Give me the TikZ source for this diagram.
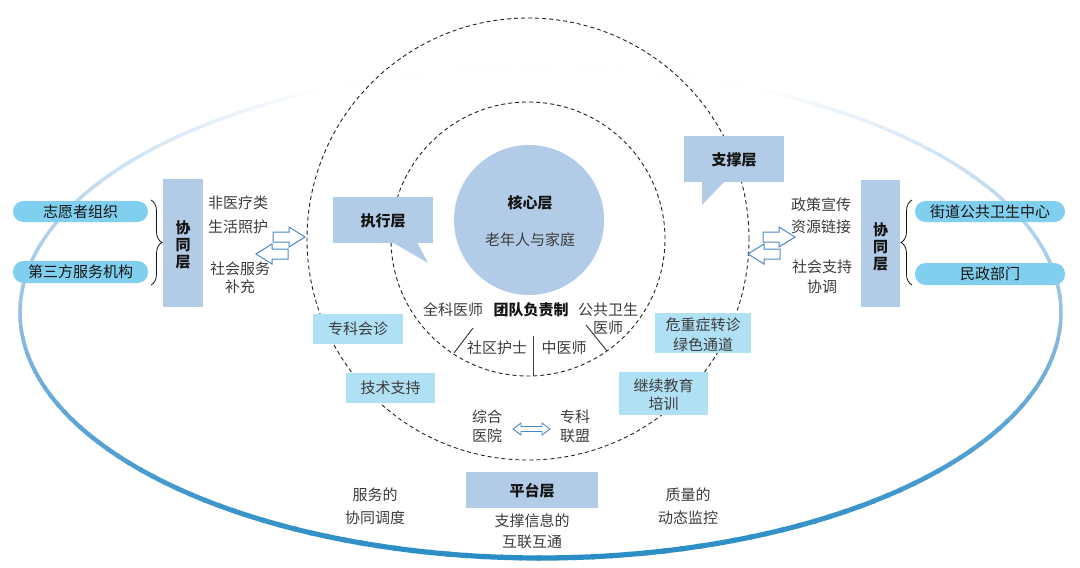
\documentclass[tikz,border=0pt]{standalone}
\usepackage{fontspec}
\setmainfont{Noto Sans CJK SC}
\usetikzlibrary{decorations.pathreplacing}
\definecolor{layerblue}{HTML}{B2CCE8}
\definecolor{pillcyan}{HTML}{80CFEE}
\definecolor{notecyan}{HTML}{B0E0F3}
\definecolor{txtgray}{HTML}{3C3C3C}
\definecolor{boldtxt}{HTML}{151515}
\definecolor{arrowblue}{HTML}{4A88C8}
\definecolor{dashgray}{HTML}{222222}
\definecolor{ellDark}{HTML}{2A8DC5}
\definecolor{ellSide}{HTML}{96C0E4}
\begin{document}
\begin{tikzpicture}[x=1pt,y=-1pt,
  every node/.style={inner sep=0pt, outer sep=0pt},
  txt/.style={text=txtgray, align=center, font=\fontsize{15}{#1}\selectfont},
  txt/.default=20,
  bold/.style={text=boldtxt, align=center, font=\bfseries\fontsize{15}{#1}\selectfont},
  bold/.default=17,
  layerbox/.style={fill=layerblue},
  pill/.style={fill=pillcyan, rounded corners=10.5pt, text=boldtxt, font=\fontsize{15}{18}\selectfont},
  notebox/.style={fill=notecyan},
  ring/.style={draw=dashgray, circle, line width=0.9pt, dash pattern=on 4pt off 3pt},
  sepline/.style={draw=txtgray, line width=1pt},
  harrow/.pic={\draw[arrowblue, line width=1pt, fill=white, line join=miter]
     (0,-5) -- (16,-5) -- (16,-10) -- (32,0) -- (16,10) -- (16,5) -- (0,5) -- cycle;},
  bracestyle/.style={draw=boldtxt, line width=0.8pt, decorate, decoration={brace, amplitude=11pt}}
]
\useasboundingbox (0,0) rectangle (1080,568);

% big gradient ellipse
\foreach \t in {0,2,...,358}{
  \pgfmathsetmacro{\s}{sin(\t+1)}
  \ifdim\s pt<0pt
    \pgfmathsetmacro{\q}{100*(max(0.001,1+(\s)/0.9))^0.7}
    \colorlet{segc}{ellSide!\q!white}
    \def\w{3.5}
  \else
    \pgfmathsetmacro{\q}{100*(max(0.001,\s))^0.8}
    \colorlet{segc}{ellDark!\q!ellSide}
    \pgfmathsetmacro{\w}{3.5+1.7*\s}
  \fi
  \draw[segc, line width=\w pt] ({540.5+520.5*cos(\t)},{312.6+245.4*sin(\t)})
     arc[start angle=\t, end angle=\t+2.4, x radius=520.5, y radius=245.4];
}

% callout tails (under the dashed rings)
\fill[layerblue] (392,242) -- (417,242) -- (428,263) -- cycle;
\fill[layerblue] (702,181) -- (725,181) -- (702,205) -- cycle;

% dashed rings
\node[ring, minimum size=442pt] (outer) at (528,239) {};
\node[ring, minimum size=274pt] (inner) at (528,239) {};

% core
\node[circle, fill=layerblue, minimum size=150pt] (core) at (529,220) {};
\node[bold] (hx) at (530,203) {核心层};
\node[txt] (lnr) at (530,240) {老年人与家庭};

% team
\node[txt] (qk) at (453,310) {全科医师};
\node[bold] (td) at (531,310) {团队负责制};
\node[txt=18] (gw) at (608,319) {公共卫生\\医师};
\node[txt] (sq) at (497,348) {社区护士};
\node[txt] (zy) at (564,348) {中医师};
\draw[sepline] (473,328) -- (454,353);
\draw[sepline] (533,336) -- (533,376);
\draw[sepline] (586,325) -- (607,351);

% callout boxes
\node[layerbox, minimum width=100pt, minimum height=46pt] (zx) at (383,220) {};
\node[bold] (zxt) at (383,221) {执行层};
\node[layerbox, minimum width=100pt, minimum height=46pt] (zc) at (734,159) {};
\node[bold] (zct) at (734,160) {支撑层};

% left coordination layer
\node[pill, minimum width=135pt, minimum height=21pt] (p1) at (80.5,211.5) {志愿者组织};
\node[pill, minimum width=135pt, minimum height=22pt] (p2) at (80.5,272) {第三方服务机构};
\draw[bracestyle] (151,200) -- (151,285);
\node[layerbox, minimum width=40pt, minimum height=128pt] (xtl) at (183,243) {};
\node[bold] (xtlt) at (183,245) {协\\同\\层};
\node[txt=24] (fl1) at (238,214.5) {非医疗类\\生活照护};
\node[txt=18] (fl2) at (240,278) {社会服务\\补充};
\pic at (273,237) {harrow};
\pic[xscale=-1] at (288,254) {harrow};

% right coordination layer
\node[pill, minimum width=150pt, minimum height=21pt] (p3) at (990,211.5) {街道公共卫生中心};
\node[pill, minimum width=150pt, minimum height=22pt] (p4) at (990,274) {民政部门};
\draw[bracestyle] (912,285) -- (912,200);
\node[layerbox, minimum width=39pt, minimum height=127pt] (xtr) at (880.5,243.5) {};
\node[bold] (xtrt) at (880.5,247) {协\\同\\层};
\node[txt=22] (fr1) at (821,216) {政策宣传\\资源链接};
\node[txt=20] (fr2) at (822,277) {社会支持\\协调};
\pic at (763,237) {harrow};
\pic[xscale=-1] at (780,254) {harrow};

% note boxes
\node[notebox, minimum width=90pt, minimum height=30pt, txt] (zkhz) at (358,329) {专科会诊};
\node[notebox, minimum width=89pt, minimum height=30pt, txt] (jszc) at (390.5,388) {技术支持};
\node[notebox, minimum width=96pt, minimum height=40pt] (wzz) at (703,333) {};
\node[txt] (wzzt) at (703,335) {危重症转诊\\绿色通道};
\node[notebox, minimum width=89pt, minimum height=43pt] (jxjy) at (663.5,393.5) {};
\node[txt=18] (jxjyt) at (663.5,395) {继续教育\\培训};

% hospitals
\node[txt=19] (zhyy) at (487,426.5) {综合\\医院};
\node[txt=19] (zkl) at (575,426.5) {专科\\联盟};
\draw[arrowblue, line width=0.9pt, fill=white, line join=miter]
  (513,429) -- (521,423) -- (521,426.5) -- (542,426.5) -- (542,423) -- (550,429)
  -- (542,435) -- (542,431.5) -- (521,431.5) -- (521,435) -- cycle;

% platform layer
\node[layerbox, minimum width=132pt, minimum height=36pt] (pt) at (532,490) {};
\node[bold] (ptt) at (532,491) {平台层};
\node[txt=21] (hl) at (532,531.5) {支撑信息的\\互联互通};
\node[txt=23] (fw) at (375,506.5) {服务的\\协同调度};
\node[txt=23] (zl) at (688,506.5) {质量的\\动态监控};
\end{tikzpicture}
\end{document}
